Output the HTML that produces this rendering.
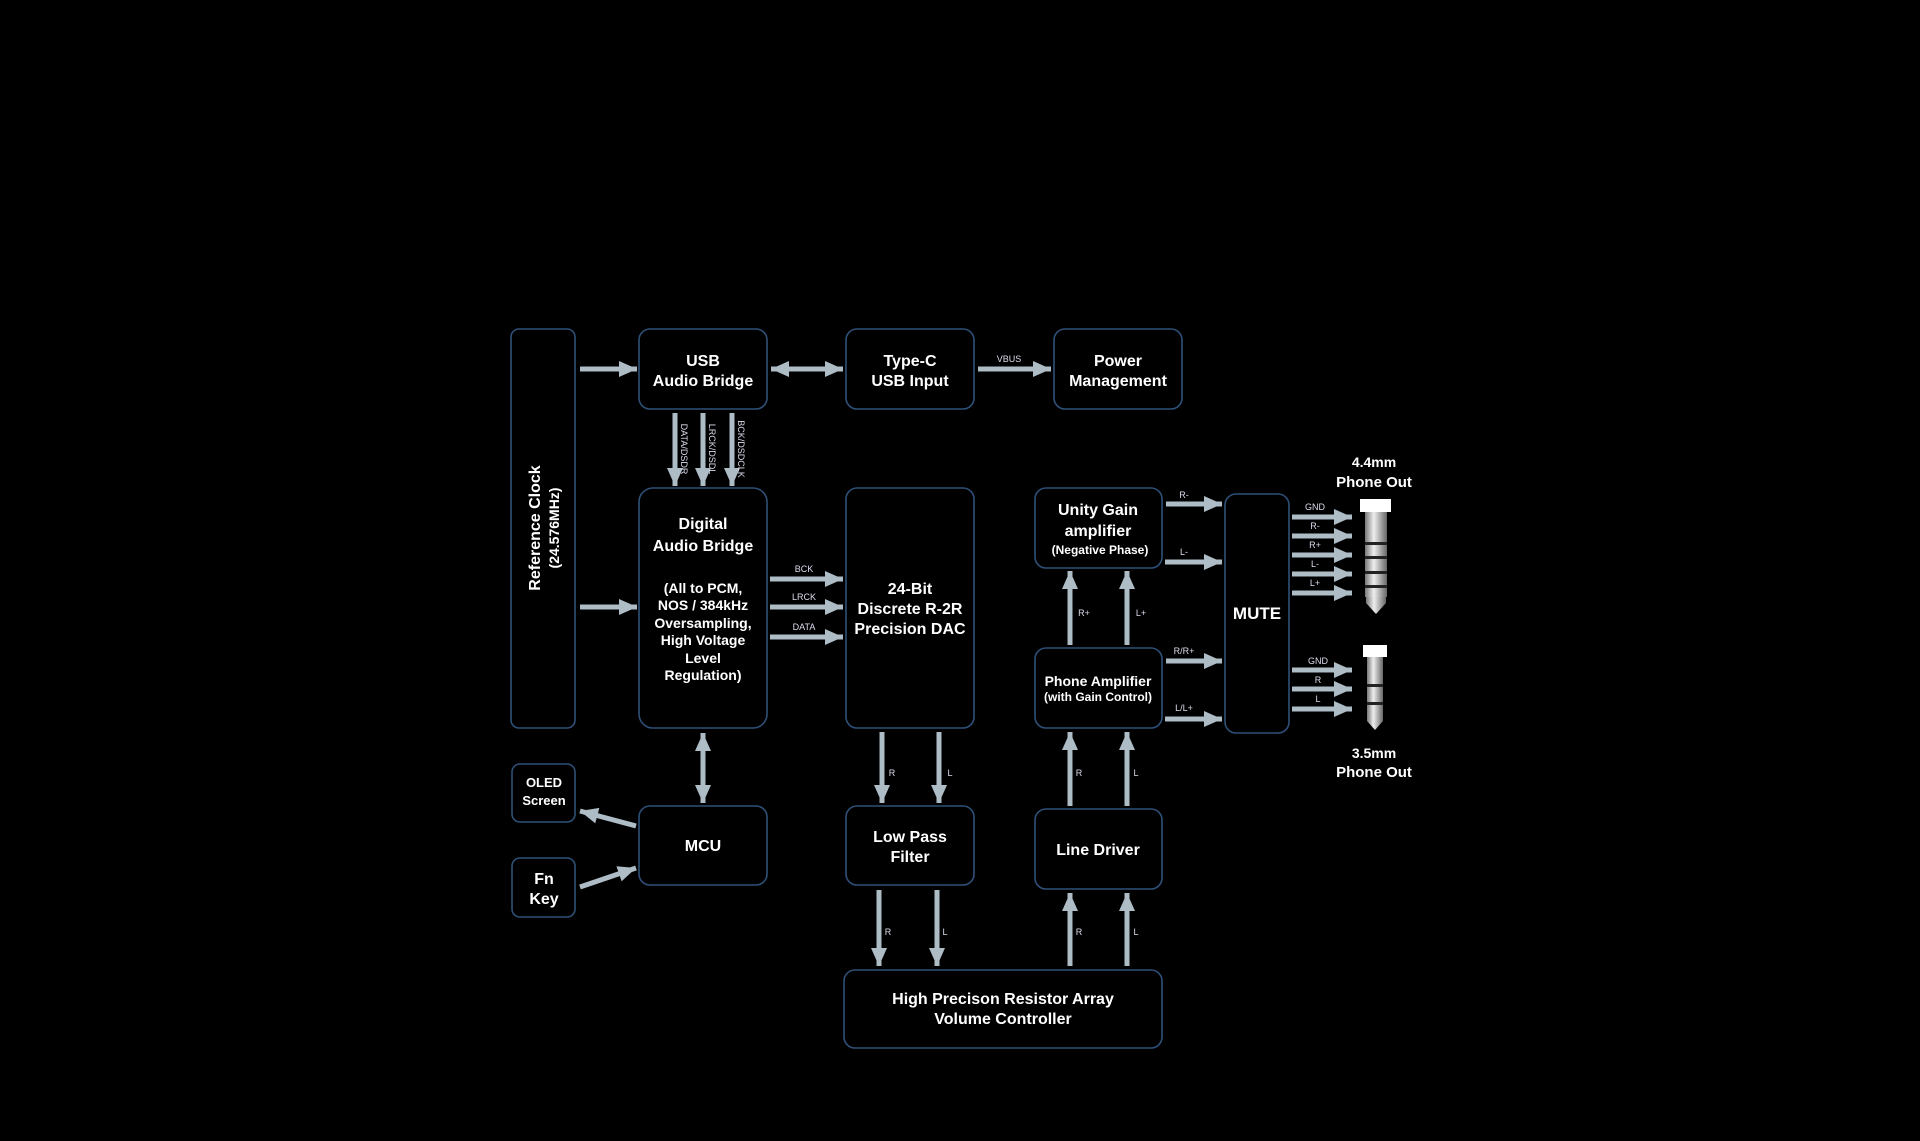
<!DOCTYPE html>
<html><head><meta charset="utf-8"><style>
html,body{margin:0;padding:0;background:#000;}
svg{display:block}
text{font-family:"Liberation Sans",sans-serif;fill:#fff;font-weight:bold;text-anchor:middle}
.s{font-size:9px;font-weight:normal;fill:#dde}
rect.b{fill:#000;stroke:#2f5078;stroke-width:1.6}
line.a{stroke:#aebcc6;stroke-width:5}
</style></head><body>
<svg width="1920" height="1141" viewBox="0 0 1920 1141" xmlns="http://www.w3.org/2000/svg">
<defs>
<marker id="h" markerUnits="userSpaceOnUse" markerWidth="20" markerHeight="16" refX="18" refY="8" orient="auto-start-reverse">
<path d="M0,0 L18,8 L0,16 Z" fill="#aebcc6"/></marker>
<linearGradient id="g" x1="0" x2="1"><stop offset="0" stop-color="#777"/><stop offset="0.4" stop-color="#eee"/><stop offset="1" stop-color="#666"/></linearGradient>
</defs>
<!-- boxes -->
<rect class="b" x="511" y="329" width="64" height="399" rx="8"/>
<rect class="b" x="639" y="329" width="128" height="80" rx="11"/>
<rect class="b" x="846" y="329" width="128" height="80" rx="11"/>
<rect class="b" x="1054" y="329" width="128" height="80" rx="11"/>
<rect class="b" x="639" y="488" width="128" height="240" rx="14"/>
<rect class="b" x="846" y="488" width="128" height="240" rx="11"/>
<rect class="b" x="1035" y="488" width="127" height="80" rx="11"/>
<rect class="b" x="1035" y="648" width="127" height="80" rx="11"/>
<rect class="b" x="1225" y="494" width="64" height="239" rx="11"/>
<rect class="b" x="512" y="764" width="63" height="58" rx="8"/>
<rect class="b" x="512" y="858" width="63" height="59" rx="8"/>
<rect class="b" x="639" y="806" width="128" height="79" rx="11"/>
<rect class="b" x="846" y="806" width="128" height="79" rx="11"/>
<rect class="b" x="1035" y="809" width="127" height="80" rx="11"/>
<rect class="b" x="844" y="970" width="318" height="78" rx="11"/>
<!-- box text -->
<text transform="translate(540,528) rotate(-90)" font-size="16">Reference Clock</text>
<text transform="translate(559,528) rotate(-90)" font-size="14" font-weight="normal">(24.576MHz)</text>
<text x="703" y="366" font-size="16">USB</text><text x="703" y="386" font-size="16">Audio Bridge</text>
<text x="910" y="366" font-size="16">Type-C</text><text x="910" y="386" font-size="16">USB Input</text>
<text x="1118" y="366" font-size="16">Power</text><text x="1118" y="386" font-size="16">Management</text>
<text x="703" y="529" font-size="16">Digital</text><text x="703" y="551" font-size="16">Audio Bridge</text>
<g font-size="14"><text x="703" y="593">(All to PCM,</text><text x="703" y="610">NOS / 384kHz</text><text x="703" y="628">Oversampling,</text><text x="703" y="645">High Voltage</text><text x="703" y="663">Level</text><text x="703" y="680">Regulation)</text></g>
<g font-size="16"><text x="910" y="594">24-Bit</text><text x="910" y="614">Discrete R-2R</text><text x="910" y="634">Precision DAC</text></g>
<text x="1098" y="515" font-size="16">Unity Gain</text><text x="1098" y="536" font-size="16">amplifier</text>
<text x="1100" y="554" font-size="12" font-weight="normal">(Negative Phase)</text>
<text x="1098" y="686" font-size="14" font-weight="normal">Phone Amplifier</text>
<text x="1098" y="701" font-size="12" font-weight="normal">(with Gain Control)</text>
<text x="1257" y="619" font-size="17">MUTE</text>
<text x="544" y="787" font-size="13" font-weight="normal">OLED</text><text x="544" y="805" font-size="13" font-weight="normal">Screen</text>
<text x="544" y="884" font-size="16">Fn</text><text x="544" y="904" font-size="16">Key</text>
<text x="703" y="851" font-size="16">MCU</text>
<text x="910" y="842" font-size="16">Low Pass</text><text x="910" y="862" font-size="16">Filter</text>
<text x="1098" y="855" font-size="16">Line Driver</text>
<text x="1003" y="1004" font-size="16">High Precison Resistor Array</text><text x="1003" y="1024" font-size="16">Volume Controller</text>
<text x="1374" y="467" font-size="14">4.4mm</text><text x="1374" y="487" font-size="15">Phone Out</text>
<text x="1374" y="758" font-size="14">3.5mm</text><text x="1374" y="777" font-size="15">Phone Out</text>
<!-- arrows -->
<g>
<line class="a" x1="580" y1="369" x2="637" y2="369" marker-end="url(#h)"/>
<line class="a" x1="580" y1="607" x2="637" y2="607" marker-end="url(#h)"/>
<line class="a" x1="771" y1="369" x2="843" y2="369" marker-start="url(#h)" marker-end="url(#h)"/>
<line class="a" x1="978" y1="369" x2="1051" y2="369" marker-end="url(#h)"/>
<line class="a" x1="675" y1="413" x2="675" y2="486" marker-end="url(#h)"/>
<line class="a" x1="703" y1="413" x2="703" y2="486" marker-end="url(#h)"/>
<line class="a" x1="732" y1="413" x2="732" y2="486" marker-end="url(#h)"/>
<line class="a" x1="770" y1="579" x2="843" y2="579" marker-end="url(#h)"/>
<line class="a" x1="770" y1="607" x2="843" y2="607" marker-end="url(#h)"/>
<line class="a" x1="770" y1="637" x2="843" y2="637" marker-end="url(#h)"/>
<line class="a" x1="703" y1="733" x2="703" y2="803" marker-start="url(#h)" marker-end="url(#h)"/>
<line class="a" x1="636" y1="826" x2="580" y2="811" marker-end="url(#h)"/>
<line class="a" x1="580" y1="887" x2="636" y2="868" marker-end="url(#h)"/>
<line class="a" x1="882" y1="732" x2="882" y2="803" marker-end="url(#h)"/>
<line class="a" x1="939" y1="732" x2="939" y2="803" marker-end="url(#h)"/>
<line class="a" x1="879" y1="890" x2="879" y2="966" marker-end="url(#h)"/>
<line class="a" x1="937" y1="890" x2="937" y2="966" marker-end="url(#h)"/>
<line class="a" x1="1070" y1="966" x2="1070" y2="893" marker-end="url(#h)"/>
<line class="a" x1="1127" y1="966" x2="1127" y2="893" marker-end="url(#h)"/>
<line class="a" x1="1070" y1="806" x2="1070" y2="732" marker-end="url(#h)"/>
<line class="a" x1="1127" y1="806" x2="1127" y2="732" marker-end="url(#h)"/>
<line class="a" x1="1070" y1="645" x2="1070" y2="571" marker-end="url(#h)"/>
<line class="a" x1="1127" y1="645" x2="1127" y2="571" marker-end="url(#h)"/>
<line class="a" x1="1166" y1="504" x2="1222" y2="504" marker-end="url(#h)"/>
<line class="a" x1="1165" y1="562" x2="1222" y2="562" marker-end="url(#h)"/>
<line class="a" x1="1166" y1="661" x2="1222" y2="661" marker-end="url(#h)"/>
<line class="a" x1="1165" y1="719" x2="1222" y2="719" marker-end="url(#h)"/>
<line class="a" x1="1292" y1="517" x2="1352" y2="517" marker-end="url(#h)"/>
<line class="a" x1="1292" y1="536" x2="1352" y2="536" marker-end="url(#h)"/>
<line class="a" x1="1292" y1="555" x2="1352" y2="555" marker-end="url(#h)"/>
<line class="a" x1="1292" y1="574" x2="1352" y2="574" marker-end="url(#h)"/>
<line class="a" x1="1292" y1="593" x2="1352" y2="593" marker-end="url(#h)"/>
<line class="a" x1="1292" y1="670" x2="1352" y2="670" marker-end="url(#h)"/>
<line class="a" x1="1292" y1="689" x2="1352" y2="689" marker-end="url(#h)"/>
<line class="a" x1="1292" y1="709" x2="1352" y2="709" marker-end="url(#h)"/>
</g>
<!-- small labels -->
<text class="s" x="1009" y="362">VBUS</text>
<text class="s" transform="translate(681,449) rotate(90)">DATA/DSDR</text>
<text class="s" transform="translate(709,449) rotate(90)">LRCK/DSDL</text>
<text class="s" transform="translate(738,449) rotate(90)">BCK/DSDCLK</text>
<text class="s" x="804" y="572">BCK</text><text class="s" x="804" y="600">LRCK</text><text class="s" x="804" y="630">DATA</text>
<text class="s" x="892" y="776">R</text><text class="s" x="950" y="776">L</text>
<text class="s" x="888" y="935">R</text><text class="s" x="945" y="935">L</text>
<text class="s" x="1079" y="935">R</text><text class="s" x="1136" y="935">L</text>
<text class="s" x="1079" y="776">R</text><text class="s" x="1136" y="776">L</text>
<text class="s" x="1084" y="616">R+</text><text class="s" x="1141" y="616">L+</text>
<text class="s" x="1184" y="498">R-</text><text class="s" x="1184" y="555">L-</text>
<text class="s" x="1184" y="654">R/R+</text><text class="s" x="1184" y="711">L/L+</text>
<g class="s"><text class="s" x="1315" y="510">GND</text><text class="s" x="1315" y="529">R-</text><text class="s" x="1315" y="548">R+</text><text class="s" x="1315" y="567">L-</text><text class="s" x="1315" y="586">L+</text>
<text class="s" x="1318" y="664">GND</text><text class="s" x="1318" y="683">R</text><text class="s" x="1318" y="702">L</text></g>
<!-- 4.4 jack -->
<rect x="1360" y="499" width="31" height="13" fill="#fff"/>
<rect x="1365" y="512" width="22" height="85" fill="url(#g)"/>
<rect x="1365" y="542" width="22" height="3" fill="#222"/><rect x="1365" y="556" width="22" height="3" fill="#222"/><rect x="1365" y="571" width="22" height="3" fill="#222"/><rect x="1365" y="585" width="22" height="3" fill="#222"/>
<path d="M1366,597 L1386,597 L1386,603 L1376,614 L1366,603 Z" fill="url(#g)"/>
<!-- 3.5 jack -->
<rect x="1363" y="645" width="24" height="12" fill="#fff"/>
<rect x="1367" y="657" width="16" height="60" fill="url(#g)"/>
<rect x="1367" y="684" width="16" height="3" fill="#222"/><rect x="1367" y="702" width="16" height="3" fill="#222"/>
<path d="M1367,717 L1383,717 L1383,721 L1375,730 L1367,721 Z" fill="url(#g)"/>
</svg>
</body></html>
